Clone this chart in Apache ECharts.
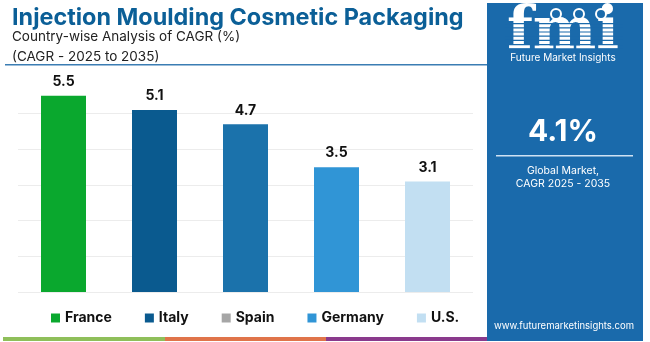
<!DOCTYPE html>
<html><head><meta charset="utf-8">
<script src="https://cdn.jsdelivr.net/npm/echarts@6/dist/echarts.min.js"></script>
<style>html,body{margin:0;padding:0;background:#fff}#c{width:650px;height:342px}</style>
</head><body><div id="c"></div>
<script>
const categories = ['France', 'Italy', 'Spain', 'Germany', 'U.S.'];
const values = [5.5, 5.1, 4.7, 3.5, 3.1];
const barColors = ['#0aa82e', '#0a5a8f', '#1b72ab', '#3095d6', '#c2dff2'];
const legendColors = ['#0aa82e', '#0a5a8f', '#a6a6a6', '#3095d6', '#c2dff2'];
const yTicks = [0, 1, 2, 3, 4, 5, 6];

const chart = echarts.init(document.getElementById('c'), null, {renderer: 'canvas'});
const FONT = 'Inter, "Open Sans", sans-serif';
const PANEL = '#1a6aab';

const series = categories.map((name, i) => ({
  name: name,
  type: 'bar',
  stack: 'all',
  barWidth: 45,
  data: categories.map((c, j) => j === i ? values[i] : '-'),
  itemStyle: {color: barColors[i]},
  label: {show: true, position: 'top', distance: 7, color: '#111', fontFamily: FONT, fontWeight: 'bold', fontSize: 14},
  emphasis: {disabled: true}
}));

const gridColors = yTicks.map((t, i) => i === yTicks.length - 1 ? 'rgba(0,0,0,0)' : '#ececec');

const stripes = [];
for (let k = 0; k < 8; k++) {
  stripes.push({type: 'rect', shape: {x: 505, y: 23 + k * 4.2, width: 118, height: 1.2}, style: {fill: PANEL}});
}

chart.setOption({
  animation: false,
  backgroundColor: '#ffffff',
  grid: {left: 18, top: 78, width: 455, height: 214, containLabel: false},
  xAxis: {type: 'category', data: categories, axisLine: {show: false}, axisTick: {show: false}, axisLabel: {show: false}},
  yAxis: {type: 'value', min: yTicks[0], max: yTicks[yTicks.length - 1], interval: 1,
    axisLabel: {show: false}, axisLine: {show: false}, axisTick: {show: false},
    splitLine: {show: true, lineStyle: {color: gridColors, width: 1}}},
  legend: {
    left: 46, top: 306, itemWidth: 9, itemHeight: 9, itemGap: 33, icon: 'rect',
    textStyle: {fontFamily: FONT, fontWeight: 'bold', fontSize: 14, color: '#111', padding: [0, 0, 0, 0]},
    data: categories.map((c, i) => ({name: c, itemStyle: {color: legendColors[i]}}))
  },
  series: series,
  graphic: [
    {type: 'text', left: 12, top: 6, style: {text: 'Injection Moulding Cosmetic Packaging', fill: '#0b5f97', font: 'bold 23.4px ' + FONT}},
    {type: 'text', left: 12, top: 30, style: {text: 'Country-wise Analysis of CAGR (%)', fill: '#222', font: '13.5px ' + FONT}},
    {type: 'text', left: 12, top: 50, style: {text: '(CAGR - 2025 to 2035)', fill: '#222', font: '13.5px ' + FONT}},
    {type: 'rect', shape: {x: 5, y: 64, width: 485, height: 1.5}, style: {fill: '#3b7db3'}},
    {type: 'rect', shape: {x: 3, y: 337, width: 162, height: 4}, style: {fill: '#8fbf5a'}},
    {type: 'rect', shape: {x: 165, y: 337, width: 161, height: 4}, style: {fill: '#e0744a'}},
    {type: 'rect', shape: {x: 326, y: 337, width: 162, height: 4}, style: {fill: '#8a3a8c'}},
    {type: 'rect', shape: {x: 487, y: 3, width: 156, height: 338}, style: {fill: PANEL}},
    {type: 'text', x: 563, y: 33, style: {text: 'fmi', fill: '#ffffff', font: 'bold 60px "DejaVu Serif", serif', align: 'center', verticalAlign: 'middle'}},
    ...stripes,
    {type: 'circle', shape: {cx: 556, cy: 14, r: 5}, style: {fill: PANEL, stroke: '#fff', lineWidth: 2}},
    {type: 'circle', shape: {cx: 579, cy: 14, r: 5}, style: {fill: PANEL, stroke: '#fff', lineWidth: 2}},
    {type: 'circle', shape: {cx: 601, cy: 14, r: 5}, style: {fill: PANEL, stroke: '#fff', lineWidth: 2}},
    {type: 'text', x: 563, y: 58, style: {text: 'Future Market Insights', fill: '#ffffff', font: '10px ' + FONT, align: 'center', verticalAlign: 'middle'}},
    {type: 'text', x: 563, y: 132, style: {text: '4.1%', fill: '#ffffff', font: 'bold 30px ' + FONT, align: 'center', verticalAlign: 'middle'}},
    {type: 'rect', shape: {x: 496, y: 155, width: 137, height: 1.5}, style: {fill: '#cfe2f3'}},
    {type: 'text', x: 563, y: 171, style: {text: 'Global Market,', fill: '#ffffff', font: '10.5px ' + FONT, align: 'center', verticalAlign: 'middle'}},
    {type: 'text', x: 563, y: 184, style: {text: 'CAGR 2025 - 2035', fill: '#ffffff', font: '10.5px ' + FONT, align: 'center', verticalAlign: 'middle'}},
    {type: 'text', x: 564, y: 326, style: {text: 'www.futuremarketinsights.com', fill: '#ffffff', font: '9.5px ' + FONT, align: 'center', verticalAlign: 'middle'}}
  ]
});
</script></body></html>
